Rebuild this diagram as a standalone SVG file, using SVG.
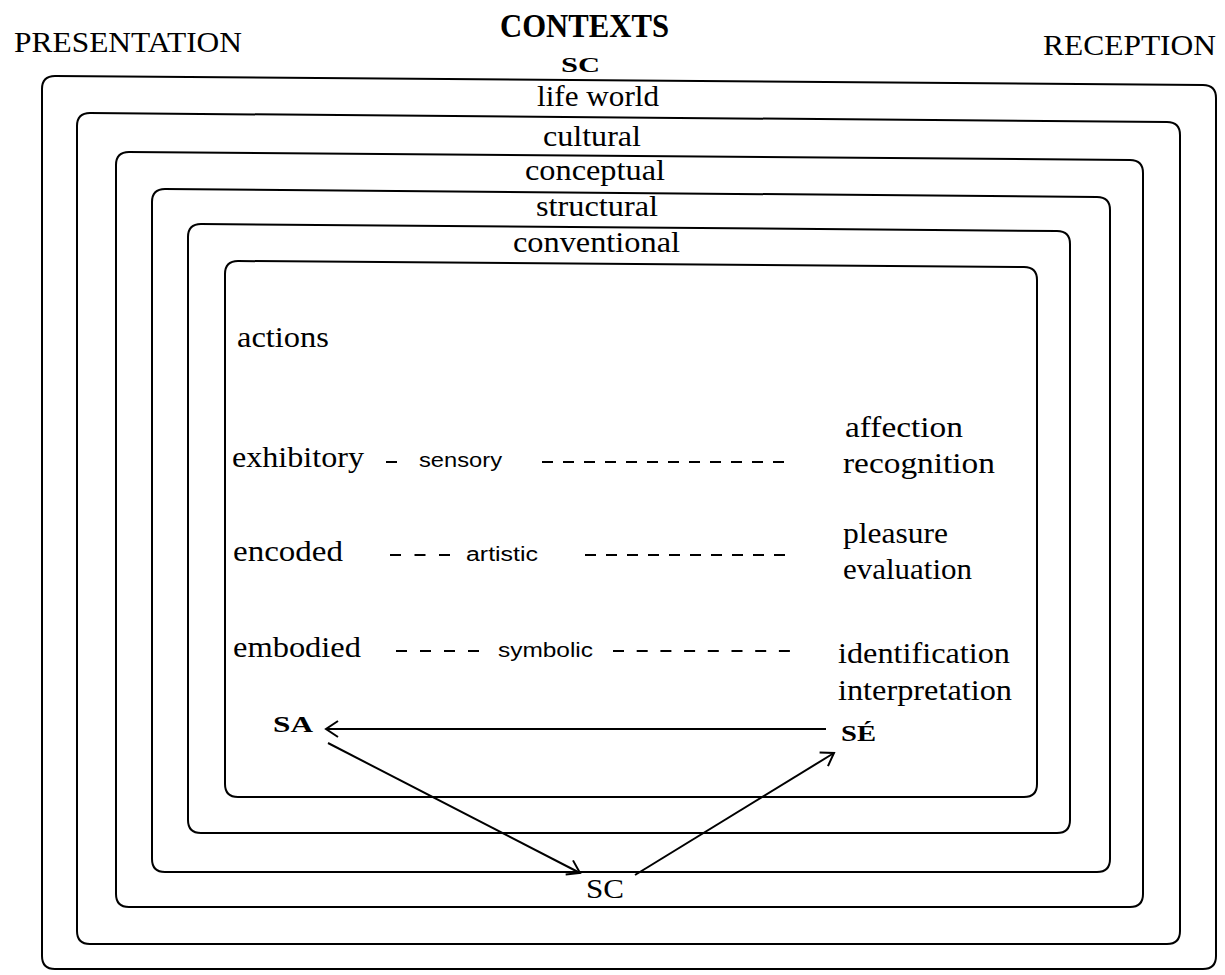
<svg xmlns="http://www.w3.org/2000/svg" width="1225" height="975" viewBox="0 0 1225 975">
<defs>
<style>
.frame{fill:none;stroke:#000;stroke-width:2}
.t{font-family:"Liberation Serif","Times New Roman",serif;font-size:29px;fill:#000}
.h{font-family:"Liberation Serif","Times New Roman",serif;font-size:30px;fill:#000}
.b{font-family:"Liberation Serif","Times New Roman",serif;font-size:24px;font-weight:bold;fill:#000}
.s{font-family:"Liberation Sans",Arial,sans-serif;font-size:20px;fill:#000}
.dash{stroke:#000;stroke-width:2;fill:none}
.conn{stroke:#000;stroke-width:2;fill:none}
</style>
<marker id="arr" markerUnits="userSpaceOnUse" markerWidth="20" markerHeight="20" viewBox="-14 -10 16 20" refX="0" refY="0" orient="auto">
<path d="M-12,-8 L0,0 L-12,8" fill="none" stroke="#000" stroke-width="2"/>
</marker>
</defs>
<rect width="1225" height="975" fill="#fff"/>

<g id="titles">
<text class="h" x="14" y="52" textLength="228" lengthAdjust="spacingAndGlyphs">PRESENTATION</text>
<text class="b" x="500" y="37" style="font-size:33px" textLength="169" lengthAdjust="spacingAndGlyphs">CONTEXTS</text>
<text class="b" x="561" y="72" style="font-size:21px" textLength="39" lengthAdjust="spacingAndGlyphs">SC</text>
<text class="h" x="1043" y="55" textLength="173" lengthAdjust="spacingAndGlyphs">RECEPTION</text>
</g>

<g id="ctx-lifeworld">
<path class="frame" d="M42,89 Q42,76 55,76 L1203,85 Q1216,85 1216,98 L1216,956 Q1216,969 1203,969 L55,969 Q42,969 42,956 Z"/>
<text class="t" x="537" y="106" textLength="122" lengthAdjust="spacingAndGlyphs">life world</text>
</g>
<g id="ctx-cultural">
<path class="frame" d="M77,126 Q77,113 90,113 L1167,122 Q1180,122 1180,135 L1180,931 Q1180,944 1167,944 L90,944 Q77,944 77,931 Z"/>
<text class="t" x="543" y="146" textLength="98" lengthAdjust="spacingAndGlyphs">cultural</text>
</g>
<g id="ctx-conceptual">
<path class="frame" d="M116,165 Q116,152 129,152 L1130,160 Q1143,160 1143,173 L1143,894 Q1143,907 1130,907 L129,907 Q116,907 116,894 Z"/>
<text class="t" x="525" y="180" textLength="140" lengthAdjust="spacingAndGlyphs">conceptual</text>
</g>
<g id="ctx-structural">
<path class="frame" d="M152,202 Q152,189 165,189 L1097,197 Q1110,197 1110,210 L1110,859 Q1110,872 1097,872 L165,872 Q152,872 152,859 Z"/>
<text class="t" x="536" y="216" textLength="122" lengthAdjust="spacingAndGlyphs">structural</text>
</g>
<g id="ctx-conventional">
<path class="frame" d="M188,237 Q188,224 201,224 L1057,231 Q1070,231 1070,244 L1070,820 Q1070,833 1057,833 L201,833 Q188,833 188,820 Z"/>
<text class="t" x="513" y="252" textLength="167" lengthAdjust="spacingAndGlyphs">conventional</text>
</g>
<g id="actions-box">
<path class="frame" d="M225,274 Q225,261 238,261 L1024,267 Q1037,267 1037,280 L1037,784 Q1037,797 1024,797 L238,797 Q225,797 225,784 Z"/>
<text class="t" x="237" y="347" textLength="92" lengthAdjust="spacingAndGlyphs">actions</text>
</g>

<g id="row-exhibitory">
<text class="t" x="232" y="467" textLength="132" lengthAdjust="spacingAndGlyphs">exhibitory</text>
<text class="s" x="419" y="467" textLength="83" lengthAdjust="spacingAndGlyphs">sensory</text>
<text class="t" x="845" y="437" textLength="118" lengthAdjust="spacingAndGlyphs">affection</text>
<text class="t" x="843" y="473" textLength="152" lengthAdjust="spacingAndGlyphs">recognition</text>
</g>
<g id="row-encoded">
<text class="t" x="233" y="561" textLength="110" lengthAdjust="spacingAndGlyphs">encoded</text>
<text class="s" x="466" y="561" textLength="72" lengthAdjust="spacingAndGlyphs">artistic</text>
<text class="t" x="843" y="543" textLength="105" lengthAdjust="spacingAndGlyphs">pleasure</text>
<text class="t" x="843" y="579" textLength="129" lengthAdjust="spacingAndGlyphs">evaluation</text>
</g>
<g id="row-embodied">
<text class="t" x="233" y="657" textLength="128" lengthAdjust="spacingAndGlyphs">embodied</text>
<text class="s" x="498" y="657" textLength="95" lengthAdjust="spacingAndGlyphs">symbolic</text>
<text class="t" x="838" y="663" textLength="172" lengthAdjust="spacingAndGlyphs">identification</text>
<text class="t" x="838" y="700" textLength="174" lengthAdjust="spacingAndGlyphs">interpretation</text>
</g>

<g id="node-SA"><text class="b" x="273" y="732" textLength="40" lengthAdjust="spacingAndGlyphs">SA</text></g>
<g id="node-SE"><text class="b" x="841" y="741" textLength="35" lengthAdjust="spacingAndGlyphs">SÉ</text></g>
<g id="node-SC"><text class="t" x="586" y="898" style="font-size:27px" textLength="38" lengthAdjust="spacingAndGlyphs">SC</text></g>

<g id="connectors">
<line class="dash" x1="386" y1="462" x2="397" y2="462"/>
<line class="dash" x1="542" y1="462" x2="789" y2="462" stroke-dasharray="11 10"/>
<line class="dash" x1="390" y1="555" x2="450" y2="555" stroke-dasharray="11 13.5"/>
<line class="dash" x1="585" y1="555" x2="785" y2="555" stroke-dasharray="11 10"/>
<line class="dash" x1="396" y1="651" x2="479" y2="651" stroke-dasharray="11 13"/>
<line class="dash" x1="613" y1="651" x2="790" y2="651" stroke-dasharray="11 12.7"/>
<line class="conn" x1="826" y1="729" x2="326" y2="729" marker-end="url(#arr)"/>
<line class="conn" x1="328" y1="743" x2="580" y2="873" marker-end="url(#arr)"/>
<line class="conn" x1="635" y1="875" x2="834" y2="753" marker-end="url(#arr)"/>
</g>
</svg>
